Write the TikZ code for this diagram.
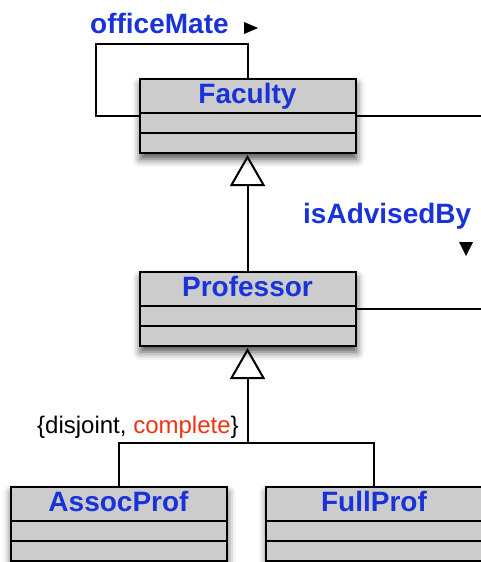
\documentclass[tikz,border=0pt]{standalone}
\usepackage{fontspec}
\setmainfont{Liberation Sans}
\usepackage{tikz}
\usetikzlibrary{calc}
\usetikzlibrary{positioning}
\usetikzlibrary{shapes}
\usetikzlibrary{arrows.meta}
\usetikzlibrary{shadows.blur}

\definecolor{umlblue}{RGB}{26,51,217}
\definecolor{umlred}{RGB}{240,50,20}
\definecolor{boxgray}{RGB}{204,204,204}

\newcommand{\titlestrut}{\rule[-9pt]{0pt}{32pt}}
\newcommand{\partstrut}{\rule{0pt}{18pt}}

\tikzset{
	classbox/.style={rectangle split, rectangle split parts=3, draw, line width=2pt,
		fill=boxgray, minimum width=216pt, inner xsep=0pt, inner ysep=0pt, outer sep=0pt,
		font=\fontsize{28}{30}\selectfont\bfseries, text=umlblue, anchor=north,
		blur shadow={shadow xshift=1pt, shadow yshift=-6pt, shadow blur radius=8pt, shadow opacity=70}},
	assoc/.style={line width=2pt},
	gen/.style={line width=2pt, -{Triangle[open, length=31pt, width=35pt]}, shorten >=2pt},
	rolename/.style={font=\fontsize{28}{30}\selectfont\bfseries, text=umlblue, inner sep=0pt, anchor=base west},
	constraint/.style={font=\fontsize{24}{26}\selectfont, inner sep=0pt, anchor=base west}
}

\begin{document}
\begin{tikzpicture}[x=1pt, y=-1pt]
				\useasboundingbox (0,0) rectangle (481,562);

				\node[classbox] (fac) at (247.5,79) {\titlestrut Faculty \nodepart{two}\partstrut \nodepart{three}\partstrut};
				\node[classbox] (prof) at (247.5,272) {\titlestrut Professor \nodepart{two}\partstrut \nodepart{three}\partstrut};
				\node[classbox] (ap) at (118.5,487) {\titlestrut AssocProf \nodepart{two}\partstrut \nodepart{three}\partstrut};
				\node[classbox] (fp) at (374,487) {\titlestrut FullProf \nodepart{two}\partstrut \nodepart{three}\partstrut};

				\coordinate (loopcorner) at (96,44);
				\coordinate (facout) at (481,116);
				\coordinate (profout) at (481,309);
				\coordinate (join) at (247.5,443);

				% associations
				\draw[assoc] (fac.north) |- (loopcorner) |- (fac.west |- facout);
				\draw[assoc] (fac.east |- facout) -- (facout);
				\draw[assoc] (prof.east |- profout) -- (profout);

				% generalizations
				\draw[gen] (prof.north) -- (fac.south);
				\draw[assoc] (ap.north) |- (join) -| (fp.north);
				\draw[gen] (join) -- (prof.south);

				\node[rolename] (om) at (90,33) {officeMate};
				\fill (244,22) -- (258,28) -- (244,34) -- cycle;
				\node[rolename] (iab) at (303,223) {isAdvisedBy};
				\fill (459,242) -- (473,242) -- (466,256) -- cycle;
				\node[constraint] (gs) at (37,433) {\{disjoint, \textcolor{umlred}{complete}\}};
			\end{tikzpicture}
\end{document}
